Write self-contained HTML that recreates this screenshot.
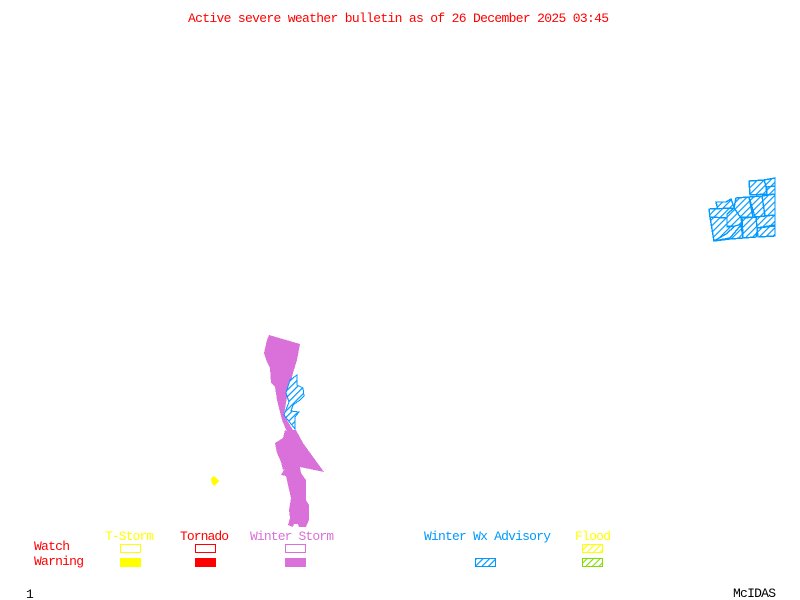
<!DOCTYPE html>
<html>
<head>
<meta charset="utf-8">
<style>
html,body{margin:0;padding:0;background:#fff;width:800px;height:600px;overflow:hidden}
svg{display:block}
text{font-family:"Liberation Mono",monospace;font-size:13px}
polygon{shape-rendering:crispEdges}
</style>
</head>
<body>
<svg width="800" height="600" viewBox="0 0 800 600" xmlns="http://www.w3.org/2000/svg">
<defs>
<pattern id="hb" width="4.6" height="4.6" patternUnits="userSpaceOnUse" patternTransform="rotate(-45)">
<rect width="4.6" height="4.6" fill="#fff"/><rect width="4.6" height="1.2" fill="#0099ff"/>
</pattern>
<pattern id="hy" width="4.6" height="4.6" patternUnits="userSpaceOnUse" patternTransform="rotate(-45)">
<rect width="4.6" height="4.6" fill="#fff"/><rect width="4.6" height="1.1" fill="#ffff00"/>
</pattern>
<pattern id="hg" width="4.6" height="4.6" patternUnits="userSpaceOnUse" patternTransform="rotate(-45)">
<rect width="4.6" height="4.6" fill="#fff"/><rect width="4.6" height="1.1" fill="#7fdd00"/>
</pattern>
</defs>

<text x="188" y="22" fill="#ff0000" textLength="421">Active severe weather bulletin as of 26 December 2025 03:45</text>

<!-- Winter storm area -->
<polygon fill="#da70d9" points="269,335 300,344 297,360 293,373 287,397 284,415 293,430 296,430 303,443 324,472 300,467 301,473 306,480 306,500 309,505 309,520 306,527 299,527 298,524 294,524 293,527 288,525 290,518 289,510 291,498 288,485 286,476 281,475 285,468 283,470 281,462 277,453 275,443 283,438 285,430 287,432 282,420 277,400 275,387 271,383 270,368 267,362 264,353 267,340"/>

<!-- Advisory over storm -->
<polygon fill="url(#hb)" stroke="#0099ff" stroke-width="1" points="297,375 297,385 303,388 304,396 300,400 293,405 291,411 299,412 295,417 295,429 284,415 289,402 286,393 290,380"/>

<!-- Yellow spot -->
<polygon fill="#ffff00" points="213,476 215,477 219,481 214,486 212,484 211,479"/>

<!-- Right cluster -->
<g fill="url(#hb)" stroke="#0099ff" stroke-width="1.4">
<polygon points="749,181 765,180 767,194 750,195"/>
<polygon points="764,180 775,178 775,187 767,189"/>
<polygon points="767,187 775,186 775,194 767,195"/>
<polygon points="716,202 726,202 731,199 734,207 734,209 718,210"/>
<polygon points="736,198 749,197 753,217 740,217 734,208"/>
<polygon points="749,197 762,196 765,216 755,217"/>
<polygon points="762,196 775,194 775,215 765,216"/>
<polygon points="709,209 734,208 733,218 727,218 727,226 710,217"/>
<polygon points="710,217 727,218 727,227 735,226 726,234 714,241"/>
<polygon points="727,214 734,208 741,218 742,224 735,226 727,226"/>
<polygon points="714,241 730,238 741,225 743,238 730,239"/>
<polygon points="742,218 757,217 758,227 756,237 743,238"/>
<polygon points="756,217 775,215 775,225 757,228"/>
<polygon points="757,228 775,226 775,236 758,237"/>
</g>

<!-- Legend -->
<text x="34" y="550" fill="#ff0000" textLength="36">Watch</text>
<text x="34" y="565" fill="#ff0000" textLength="50">Warning</text>
<text x="105" y="540" fill="#ffff00" textLength="49">T-Storm</text>
<text x="180" y="540" fill="#ff0000" textLength="49">Tornado</text>
<text x="250" y="540" fill="#da70d9" textLength="84">Winter Storm</text>
<text x="424" y="540" fill="#0099ff" textLength="127">Winter Wx Advisory</text>
<text x="575" y="540" fill="#ffff00" textLength="36">Flood</text>

<rect x="120.5" y="544.5" width="20" height="8" fill="#fff" stroke="#ffff00"/>
<rect x="195.5" y="544.5" width="20" height="8" fill="#fff" stroke="#ff0000"/>
<rect x="285.5" y="544.5" width="20" height="8" fill="#fff" stroke="#da70d9"/>
<rect x="582.5" y="544.5" width="20" height="8" fill="url(#hy)" stroke="#ffff00"/>

<rect x="120" y="558" width="21" height="9" fill="#ffff00"/>
<rect x="195" y="558" width="21" height="9" fill="#ff0000"/>
<rect x="285" y="558" width="21" height="9" fill="#da70d9"/>
<rect x="475.5" y="558.5" width="20" height="8" fill="url(#hb)" stroke="#0099ff"/>
<rect x="582.5" y="558.5" width="20" height="8" fill="url(#hg)" stroke="#7fdd00"/>

<text x="26" y="598" fill="#000">1</text>
<text x="733" y="597" fill="#000" textLength="43">McIDAS</text>
</svg>
</body>
</html>
